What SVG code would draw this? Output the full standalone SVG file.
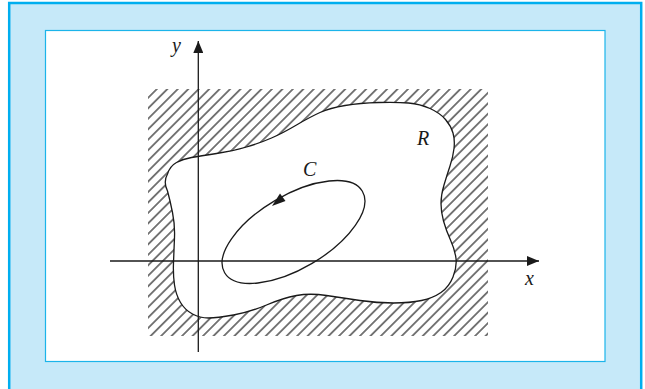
<svg xmlns="http://www.w3.org/2000/svg" width="645" height="389" viewBox="0 0 645 389">
<style>
.ln{fill:none;stroke:#1a1a1a;stroke-width:1.3}
.lbl{font-family:"Liberation Serif","Times New Roman",serif;font-style:italic;font-size:20px;fill:#1a1a1a}
</style>
<defs>
<pattern id="hatch" patternUnits="userSpaceOnUse" width="7.4" height="20" patternTransform="rotate(45)">
<line x1="3.7" y1="-2" x2="3.7" y2="22" stroke="#1a1a1a" stroke-width="1.15"/>
</pattern>
<marker id="ah" viewBox="0 0 12 10" refX="12" refY="5" markerWidth="12" markerHeight="10" markerUnits="userSpaceOnUse" orient="auto">
<path d="M0,0 L12,5 L0,10 Z" fill="#1a1a1a"/>
</marker>
</defs>
<g id="frame">
<rect x="9.2" y="3" width="632" height="392" fill="#c6e9f9" stroke="#00aeef" stroke-width="2.5"/>
<rect x="45.5" y="30.5" width="559.5" height="331" fill="#ffffff" stroke="#1bb4ea" stroke-width="1.2"/>
</g>
<g id="hatched-area">
<rect x="148" y="89" width="340" height="247" fill="url(#hatch)"/>
</g>
<g id="region-R">
<path class="ln" style="fill:#ffffff" d="M167.5,191 Q163,182 167.5,174 Q170,166 176.5,162.5 Q183,159 191.5,157.5 Q200,156 216.5,153.5 Q233,151 246.5,147 Q260,143 271.5,138 Q283,133 296.5,125 Q310,117 320,112.5 Q330,108 345,105.5 Q360,103 378.5,102.5 Q397,102 408.5,103 Q420,104 430,108.5 Q440,113 445.5,119.5 Q451,126 453,133 Q455,140 454,148.5 Q453,157 450,166 Q447,175 444,185 Q441,195 441,203.5 Q441,212 443.5,221 Q446,230 450.5,240 Q455,250 456,258.5 Q457,267 453,277 Q449,287 441,292.5 Q433,298 421.5,300.5 Q410,303 393.5,303 Q377,303 360,300.5 Q343,298 326.5,295.5 Q310,293 296.5,295.5 Q283,298 266.5,305 Q250,312 233.5,315 Q217,318 208.5,318 Q200,318 192.5,314 Q185,310 180.5,302.5 Q176,295 174.5,285 Q173,275 173.5,262.5 Q174,250 174.5,237.5 Q175,225 172.5,212.5 Q170,200 167.5,191 Z"/>
<text class="lbl" x="417" y="145">R</text>
</g>
<g id="curve-C">
<ellipse class="ln" cx="293.5" cy="232" rx="80" ry="36.5" transform="rotate(-30.6 293.5 232)"/>
<polygon points="272,206 285.5,201 280,193.5" fill="#1a1a1a"/>
<text class="lbl" x="303" y="176">C</text>
</g>
<g id="connectors">
<line class="ln" x1="198.3" y1="352" x2="198.3" y2="41" marker-end="url(#ah)"/>
<line class="ln" x1="110" y1="261" x2="539" y2="261" marker-end="url(#ah)"/>
</g>
<g id="axis-labels">
<text class="lbl" x="172" y="52">y</text>
<text class="lbl" x="525" y="285">x</text>
</g>
</svg>
